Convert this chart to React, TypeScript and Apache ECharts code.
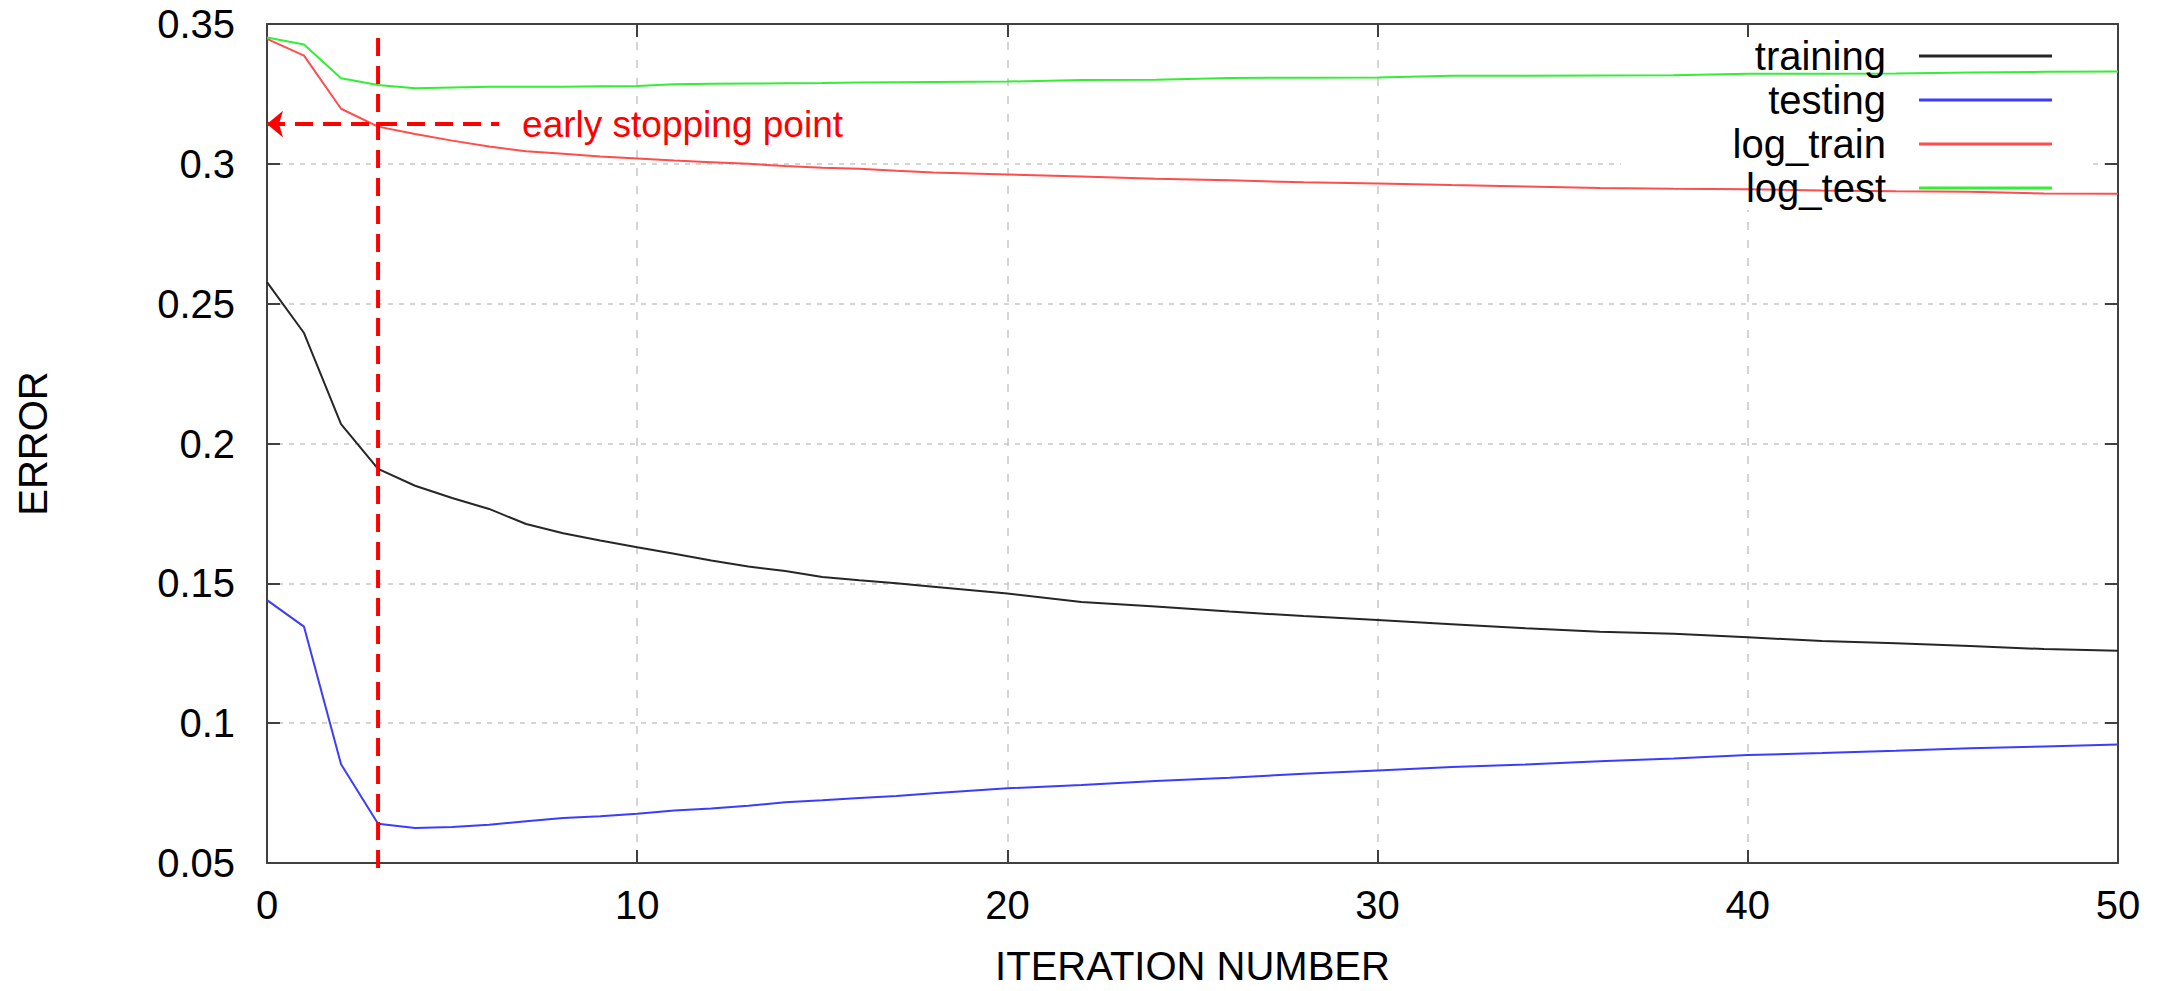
import React, { useEffect, useRef } from "react";
import * as echarts from "echarts";

// ---- data ----
const iterations = [0, 1, 2, 3, 4, 5, 6, 7, 8, 9, 10, 11, 12, 13, 14, 15, 16, 17, 18, 20, 22, 24, 26, 28, 30, 32, 34, 36, 38, 40, 42, 44, 46, 48, 50];

const training = [0.2577, 0.2395, 0.2069, 0.1909, 0.1849, 0.1805, 0.1766, 0.1712, 0.1679, 0.1653, 0.1629, 0.1606, 0.1582, 0.156, 0.1544, 0.1523, 0.1511, 0.15, 0.1488, 0.1464, 0.1433, 0.1417, 0.1399, 0.1383, 0.1369, 0.1354, 0.1339, 0.1327, 0.132, 0.1307, 0.1294, 0.1286, 0.1276, 0.1265, 0.1259];

const testing = [0.144, 0.1345, 0.0853, 0.064, 0.0625, 0.0629, 0.0637, 0.0649, 0.0661, 0.0667, 0.0676, 0.0688, 0.0695, 0.0705, 0.0717, 0.0724, 0.0732, 0.074, 0.0749, 0.0767, 0.0779, 0.0793, 0.0805, 0.0819, 0.0831, 0.0843, 0.0852, 0.0864, 0.0874, 0.0886, 0.0893, 0.0901, 0.091, 0.0917, 0.0924];

const logTrain = [0.3447, 0.3387, 0.3197, 0.3133, 0.3107, 0.3083, 0.3062, 0.3045, 0.3036, 0.3026, 0.3019, 0.3012, 0.3006, 0.3, 0.2992, 0.2986, 0.2982, 0.2975, 0.2969, 0.2962, 0.2955, 0.2947, 0.2941, 0.2934, 0.293, 0.2924, 0.2919, 0.2914, 0.2911, 0.2909, 0.2905, 0.2902, 0.29, 0.2894, 0.2893];

const logTest = [0.3452, 0.3427, 0.3306, 0.3282, 0.327, 0.3273, 0.3276, 0.3276, 0.3276, 0.3277, 0.3278, 0.3285, 0.3286, 0.3287, 0.3288, 0.3289, 0.3291, 0.3292, 0.3293, 0.3294, 0.33, 0.3301, 0.3307, 0.3308, 0.3309, 0.3315, 0.3315, 0.3316, 0.3317, 0.3322, 0.3322, 0.3323, 0.3327, 0.3329, 0.333];

const seriesNames = ["training", "testing", "log_train", "log_test"];
const seriesColors = ["#262626", "#3c3cff", "#ff4c4c", "#33ee33"];

// annotation
const stopIteration = 3;
const stopLineRange = [0.345, 0.0475];
const stopError = 0.3142;
const arrowSpan = [0, 6.27];
const annotationText = "early stopping point";

// axes
const xTicks = { min: 0, max: 50, interval: 10 };
const yTicks = { min: 0.05, max: 0.35, interval: 0.05 };
const xTitle = "ITERATION NUMBER";
const yTitle = "ERROR";

const FONT = "'Liberation Sans', Arial, Helvetica, sans-serif";
const AXIS_COLOR = "#404040";
const GRID_COLOR = "#c8c8c8";
const RED = "#ff0000";

export default function App() {
  const ref = useRef<HTMLDivElement>(null);

  useEffect(() => {
    if (!ref.current) return;
    const chart = echarts.init(ref.current, null, { renderer: "svg" });

    const valuesList = [training, testing, logTrain, logTest];
    const lineSeries = seriesNames.map((name, k) => ({
      name,
      type: "line",
      data: iterations.map((x, i) => [x, valuesList[k][i]]),
      showSymbol: false,
      symbol: "none",
      color: seriesColors[k],
      lineStyle: { color: seriesColors[k], width: 2 },
      itemStyle: { color: seriesColors[k] },
      z: 3,
      silent: true,
    }));

    // vertical dashed line at the early stopping iteration + arrow to the y axis
    const stopLineSeries = {
      name: "early stopping",
      type: "line",
      data: stopLineRange.map((v) => [stopIteration, v]),
      showSymbol: false,
      symbol: "none",
      clip: false,
      silent: true,
      z: 4,
      lineStyle: { color: RED, width: 4, type: [18, 10] },
      itemStyle: { color: RED },
      markLine: {
        silent: true,
        animation: false,
        symbol: "none",
        lineStyle: { color: RED, width: 4, type: [18, 10] },
        label: {
          show: true,
          position: "end",
          distance: 23,
          formatter: annotationText,
          color: RED,
          fontFamily: FONT,
          fontSize: 37,
        },
        data: [
          [
            { coord: [arrowSpan[0], stopError], symbol: "arrow", symbolSize: [20, 16] },
            { coord: [arrowSpan[1], stopError], symbol: "none" },
          ],
        ],
      },
    };

    const axisCommon = {
      axisLine: { show: true, onZero: false, lineStyle: { color: AXIS_COLOR, width: 2 } },
      axisTick: { show: true, inside: true, length: 13, lineStyle: { color: AXIS_COLOR, width: 2 } },
    };

    const option: any = {
      animation: false,
      backgroundColor: "#ffffff",
      grid: {
        left: 267,
        right: 55,
        top: 24,
        bottom: 128,
        containLabel: false,
        outerBoundsMode: "none",
      },
      legend: {
        data: seriesNames,
        orient: "vertical",
        align: "right",
        right: 116,
        top: 29,
        icon: "rect",
        itemWidth: 133,
        itemHeight: 3,
        itemGap: 0,
        selectedMode: false,
        textStyle: {
          fontFamily: FONT,
          fontSize: 40,
          lineHeight: 44,
          color: "#000",
          padding: [0, 28, 0, 0],
        },
      },
      graphic: {
        elements: [
          {
            type: "rect",
            z: 1,
            silent: true,
            shape: { x: 1621, y: 38, width: 467, height: 172 },
            style: { fill: "#ffffff" },
          },
        ],
      },
      xAxis: [
        {
          type: "value",
          ...xTicks,
          ...axisCommon,
          position: "bottom",
          name: xTitle,
          nameLocation: "middle",
          nameGap: 88,
          nameTextStyle: { fontFamily: FONT, fontSize: 40, lineHeight: 30, color: "#000" },
          axisLabel: { fontFamily: FONT, fontSize: 40, lineHeight: 40, color: "#000", margin: 22 },
          splitLine: { show: true, lineStyle: { color: GRID_COLOR, width: 1.5, type: [8, 10] } },
        },
        {
          type: "value",
          ...xTicks,
          ...axisCommon,
          position: "top",
          axisLabel: { show: false },
          splitLine: { show: false },
        },
      ],
      yAxis: [
        {
          type: "value",
          ...yTicks,
          ...axisCommon,
          position: "left",
          name: yTitle,
          nameLocation: "middle",
          nameRotate: 90,
          nameGap: 214,
          nameTextStyle: { fontFamily: FONT, fontSize: 40, lineHeight: 40, color: "#000" },
          axisLabel: { fontFamily: FONT, fontSize: 40, color: "#000", margin: 32 },
          splitLine: { show: true, lineStyle: { color: GRID_COLOR, width: 1.5, type: [5, 6] } },
        },
        {
          type: "value",
          ...yTicks,
          ...axisCommon,
          position: "right",
          axisLabel: { show: false },
          splitLine: { show: false },
        },
      ],
      series: [...lineSeries, stopLineSeries],
    };

    chart.setOption(option);
    return () => chart.dispose();
  }, []);

  return (
    <div
      ref={ref}
      style={{ position: "fixed", left: 0, top: 0, width: 2173, height: 991, background: "#fff" }}
    />
  );
}
